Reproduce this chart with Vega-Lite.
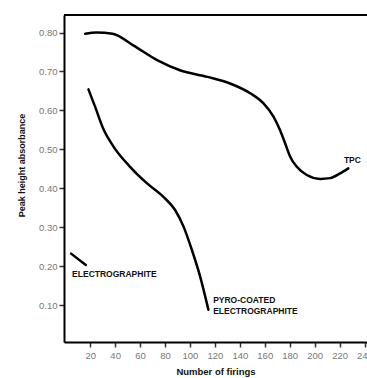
{
  "$schema": "https://vega.github.io/schema/vega-lite/v6.json",
  "width": 303,
  "height": 327,
  "autosize": {"type": "none"},
  "padding": {"left": 64, "top": 15, "right": 0, "bottom": 36},
  "background": "white",
  "config": {
    "view": {"stroke": null},
    "font": "Liberation Sans",
    "axis": {"labelOverlap": false, "labelFlush": false, "grid": false}
  },
  "datasets": {
    "curves": [
      {"series": "TPC", "firings": 16, "abs": 0.797},
      {"series": "TPC", "firings": 25, "abs": 0.800},
      {"series": "TPC", "firings": 38, "abs": 0.797},
      {"series": "TPC", "firings": 54.5, "abs": 0.767},
      {"series": "TPC", "firings": 73.7, "abs": 0.729},
      {"series": "TPC", "firings": 92, "abs": 0.703},
      {"series": "TPC", "firings": 114, "abs": 0.686},
      {"series": "TPC", "firings": 132.2, "abs": 0.669},
      {"series": "TPC", "firings": 148.3, "abs": 0.644},
      {"series": "TPC", "firings": 159, "abs": 0.618},
      {"series": "TPC", "firings": 167, "abs": 0.584},
      {"series": "TPC", "firings": 172.3, "abs": 0.549},
      {"series": "TPC", "firings": 176.4, "abs": 0.515},
      {"series": "TPC", "firings": 180.4, "abs": 0.481},
      {"series": "TPC", "firings": 185.7, "abs": 0.455},
      {"series": "TPC", "firings": 193.7, "abs": 0.434},
      {"series": "TPC", "firings": 204.4, "abs": 0.424},
      {"series": "TPC", "firings": 212.4, "abs": 0.426},
      {"series": "TPC", "firings": 220.4, "abs": 0.438},
      {"series": "TPC", "firings": 227, "abs": 0.451},
      {"series": "Pyro", "firings": 18.6, "abs": 0.654},
      {"series": "Pyro", "firings": 24, "abs": 0.609},
      {"series": "Pyro", "firings": 30.6, "abs": 0.552},
      {"series": "Pyro", "firings": 38.7, "abs": 0.507},
      {"series": "Pyro", "firings": 52, "abs": 0.455},
      {"series": "Pyro", "firings": 65.4, "abs": 0.413},
      {"series": "Pyro", "firings": 78.7, "abs": 0.378},
      {"series": "Pyro", "firings": 88.1, "abs": 0.344},
      {"series": "Pyro", "firings": 94.8, "abs": 0.302},
      {"series": "Pyro", "firings": 101.5, "abs": 0.242},
      {"series": "Pyro", "firings": 108.2, "abs": 0.173},
      {"series": "Pyro", "firings": 114.8, "abs": 0.088},
      {"series": "Electro", "firings": 4.7, "abs": 0.232},
      {"series": "Electro", "firings": 16.5, "abs": 0.203}
    ],
    "labels": [
      {"text": "ELECTROGRAPHITE", "firings": 5.5, "abs": 0.18},
      {"text": "PYRO-COATED", "firings": 118.6, "abs": 0.113},
      {"text": "ELECTROGRAPHITE", "firings": 118.6, "abs": 0.085},
      {"text": "TPC", "firings": 223.5, "abs": 0.472}
    ],
    "frame": [{"abs": 0.845}]
  },
  "layer": [
    {
      "data": {"name": "curves"},
      "mark": {"type": "line", "interpolate": "monotone", "color": "black", "strokeWidth": 2.5, "strokeCap": "round"},
      "encoding": {
        "x": {
          "field": "firings", "type": "quantitative",
          "scale": {"domain": [-1, 242], "nice": false, "zero": false},
          "axis": {
            "values": [20, 40, 60, 80, 100, 120, 140, 160, 180, 200, 220, 240],
            "tickCount": 30,
            "labelOverlap": false,
            "title": "Number of firings",
            "titleFontWeight": "bold", "titleFontSize": 9.5, "titleColor": "#111",
            "titlePadding": 7,
            "labelFontSize": 9.5, "labelColor": "#777", "labelPadding": 3,
            "domainColor": "black", "domainWidth": 2,
            "tickColor": "#333", "tickWidth": 1.5, "tickSize": 5
          }
        },
        "y": {
          "field": "abs", "type": "quantitative",
          "scale": {"domain": [0.005, 0.845], "nice": false, "zero": false},
          "axis": {
            "values": [0.1, 0.2, 0.3, 0.4, 0.5, 0.6, 0.7, 0.8],
            "tickCount": 30,
            "format": ".2f",
            "title": "Peak height absorbance",
            "titleFontWeight": "bold", "titleFontSize": 9, "titleColor": "#111",
            "titleY": 150, "titleX": -38,
            "labelFontSize": 9.5, "labelColor": "#777", "labelPadding": 2,
            "domainColor": "black", "domainWidth": 2,
            "tickColor": "#333", "tickWidth": 1.5, "tickSize": 5
          }
        },
        "detail": {"field": "series"}
      }
    },
    {
      "data": {"name": "frame"},
      "mark": {"type": "rule", "color": "black", "strokeWidth": 2},
      "encoding": {"y": {"field": "abs", "type": "quantitative"}}
    },
    {
      "data": {"name": "labels"},
      "mark": {"type": "text", "align": "left", "baseline": "middle", "fontWeight": "bold", "fontSize": 8.5, "color": "#111"},
      "encoding": {
        "x": {"field": "firings", "type": "quantitative"},
        "y": {"field": "abs", "type": "quantitative"},
        "text": {"field": "text"}
      }
    }
  ]
}
